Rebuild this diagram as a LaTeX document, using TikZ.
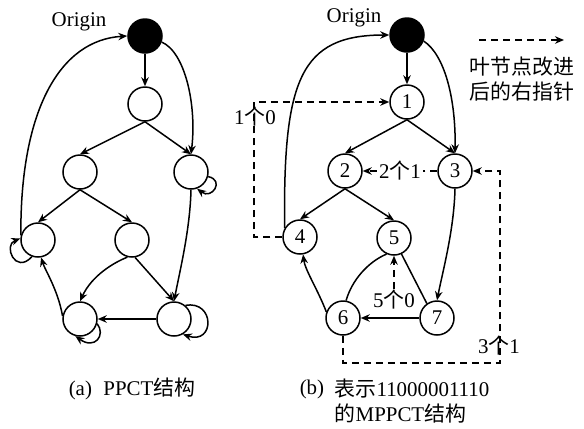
\documentclass[tikz,border=0pt]{standalone}
\usepackage{fontspec}
\setmainfont{Liberation Serif}
\newfontfamily\cjk{Noto Sans CJK SC}
\newcommand{\zh}[1]{{\cjk #1}}
\usetikzlibrary{arrows.meta}
\begin{document}
\begin{tikzpicture}[x=1bp,y=-1bp, line width=1.5bp,
  nd/.style={circle,draw,minimum size=34bp,inner sep=0pt,font=\fontsize{21}{24}\selectfont},
  org/.style={nd,fill=black},
  arr/.style={-{Stealth[length=9bp,width=7.5bp]}},
  dsh/.style={dash pattern=on 7bp off 5bp, line width=1.4bp},
  lbl/.style={font=\fontsize{21}{24}\selectfont, inner sep=1bp}]
\useasboundingbox (0,0) rectangle (584,428);

% ---------------- panel (a)
\node[org] (aO) at (145,36) {};
\node[lbl] (aOl) at (79,22) {Origin};
\node[nd] (a1) at (145,104) {};
\node[nd] (a2) at (80,172) {};
\node[nd] (a3) at (191,172) {};
\node[nd] (a4) at (38,240) {};
\node[nd] (a5) at (132,240) {};
\node[nd] (a6) at (80,319) {};
\node[nd] (a7) at (174,319) {};

\draw[arr] (aO) -- (a1);
\draw[arr] (a1.south) -- (a2.north);
\draw[arr] (a1.south) -- (a3.north);
\draw[arr] (a2.south) -- (a4.north);
\draw[arr] (a2.south) -- (a5.north);
\draw[arr] (a5.-105) .. controls (115,262) and (92,275) .. (a6.north);
\draw[arr] (a5.-80) -- (a7.north);
\draw[arr] (a7.west) -- (a6.east);
\draw[arr] (aO.-20) .. controls (185,52) and (197,105) .. (a3.north);
\draw[arr] (a4.165) .. controls (20,110) and (60,40) .. (aO.west);
\draw[arr] (a3.south) .. controls (190,230) and (180,270) .. (a7.north);
\draw[arr] (a6.170) .. controls (58,290) and (45,270) .. (a4.-80);
% self loops
\draw[arr] (a3.-15) .. controls (225,180) and (212,200) .. (a3.-70);
\draw[arr] (a4.-110) .. controls (15,275) and (3,245) .. (a4.175);
\draw[arr] (a6.-15) .. controls (106,335) and (95,350) .. (a6.-105);
\draw[arr] (a7.50) .. controls (215,300) and (215,345) .. (a7.-60);

\node[lbl,anchor=west] (capa) at (67,389) {(a)\hspace{0.55em}PPCT\zh{结构}};

% ---------------- panel (b)
\node[org] (bO) at (407,35) {};
\node[lbl] (bOl) at (354,18) {Origin};
\node[nd] (b1) at (407,102) {1};
\node[nd] (b2) at (345,171) {2};
\node[nd] (b3) at (455,171) {3};
\node[nd] (b4) at (300,237) {4};
\node[nd] (b5) at (394,238) {5};
\node[nd] (b6) at (343,318) {6};
\node[nd] (b7) at (437,318) {7};

\draw[arr] (bO) -- (b1);
\draw[arr] (b1.south) -- (b2.north);
\draw[arr] (b1.south) -- (b3.north);
\draw[arr] (b2.south) -- (b4.north);
\draw[arr] (b2.south) -- (b5.north);
\draw[arr] (bO.-20) .. controls (445,55) and (456,100) .. (b3.north);
\draw[arr] (b4.150) .. controls (283,80) and (300,35) .. (bO.west);
\draw[arr] (b3.south) .. controls (454,230) and (443,270) .. (b7.north);
\draw[arr] (b6.160) .. controls (318,290) and (305,270) .. (b4.-80);
\draw (b6.80) .. controls (352,280) and (368,262) .. (b5.-115);
\draw (b7.125) -- (b5.-65);
\draw[arr] (b7.west) -- (b6.east);

% dashed pointers
\draw[dsh,arr] (b3.west) -- node[lbl,fill=white,inner sep=2bp] (l21) {2\zh{个}1} (b2.east);
\coordinate (c4a) at (254,237);
\coordinate (c4b) at (254,102);
\draw[dsh,arr] (b4.west) -- (c4a) -- (c4b) -- (b1.west);
\node[lbl] (l10) at (255,117) {1\zh{个}0};
\coordinate (c6a) at (343,363);
\coordinate (c6b) at (500,363);
\coordinate (c6c) at (500,171);
\draw[dsh,arr] (b6.south) -- (c6a) -- (c6b) -- (c6c) -- (b3.east);
\node[lbl] (l31) at (499,346) {3\zh{个}1};
\node[lbl] (l50) at (394,300) {5\zh{个}0};
\coordinate (c5) at (394,289);
\draw[dsh,arr] (c5) -- (b5.south);

% legend
\coordinate (lg1) at (479,40);
\coordinate (lg2) at (564,40);
\draw[dsh,arr] (lg1) -- (lg2);
\node[lbl] (lt1) at (522,67) {\zh{叶节点改进}};
\node[lbl] (lt2) at (522,92) {\zh{后的右指针}};

\node[lbl,anchor=west] (capb) at (298,389) {(b)};
\node[lbl,anchor=west] (capb1) at (333,389) {\zh{表示}11000001110};
\node[lbl,anchor=west] (capb2) at (333,414) {\zh{的}MPPCT\zh{结构}};
\end{tikzpicture}
\end{document}
